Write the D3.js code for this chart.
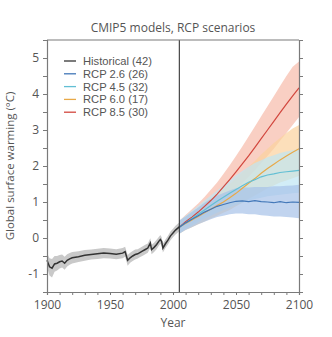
<!DOCTYPE html>
<html>
<head>
<meta charset="utf-8">
<script src="https://cdn.jsdelivr.net/npm/d3@7"></script>
<style>
  body { margin: 0; background: #fff; }
  text { font-family: "Open Sans", "DejaVu Sans", sans-serif; }
</style>
</head>
<body>
<div id="chart"></div>
<script>
// Historical run (1900-2005)
const histYears = [1900,1902,1904,1906,1908,1910,1912,1914,1916,1918,1920,1925,1930,1935,1940,1945,1950,1955,1960,1962,1964,1966,1968,1970,1972,1974,1976,1978,1980,1982,1983,1985,1987,1989,1990,1991,1992,1994,1996,1998,2000,2002,2005];
const histMean  = [-0.62,-0.80,-0.84,-0.72,-0.70,-0.66,-0.64,-0.70,-0.62,-0.58,-0.55,-0.52,-0.48,-0.46,-0.44,-0.42,-0.43,-0.45,-0.42,-0.38,-0.62,-0.55,-0.50,-0.46,-0.44,-0.40,-0.36,-0.32,-0.28,-0.14,-0.32,-0.26,-0.18,-0.08,-0.04,-0.10,-0.28,-0.16,-0.06,0.06,0.14,0.22,0.31];
const histSpread = [0.20,0.24,0.26,0.22,0.20,0.19,0.18,0.18,0.17,0.16,0.16,0.15,0.15,0.14,0.14,0.14,0.14,0.14,0.14,0.14,0.15,0.14,0.14,0.14,0.13,0.13,0.13,0.13,0.13,0.13,0.13,0.13,0.13,0.12,0.12,0.12,0.12,0.12,0.12,0.12,0.12,0.12,0.12];

// Projections (2005-2100)
const projYears = [2005,2010,2015,2020,2025,2030,2035,2040,2045,2050,2055,2060,2065,2070,2075,2080,2085,2090,2095,2100];

const rcp26Mean = [0.30,0.42,0.52,0.62,0.72,0.80,0.88,0.93,0.98,1.02,1.03,1.01,1.04,1.01,1.00,0.98,1.01,0.98,1.00,0.99];
const rcp26Low  = [0.12,0.22,0.30,0.38,0.45,0.52,0.58,0.62,0.66,0.68,0.68,0.66,0.66,0.63,0.62,0.60,0.60,0.58,0.57,0.55];
const rcp26High = [0.48,0.60,0.72,0.85,0.98,1.08,1.18,1.25,1.32,1.38,1.40,1.40,1.42,1.42,1.42,1.44,1.44,1.45,1.46,1.48];

const rcp45Mean = [0.30,0.42,0.54,0.66,0.78,0.90,1.02,1.13,1.24,1.35,1.45,1.55,1.62,1.70,1.75,1.78,1.82,1.84,1.86,1.88];
const rcp45Low  = [0.12,0.24,0.34,0.44,0.54,0.62,0.70,0.78,0.85,0.92,0.98,1.04,1.08,1.12,1.16,1.18,1.20,1.22,1.24,1.26];
const rcp45High = [0.48,0.62,0.76,0.90,1.04,1.18,1.32,1.46,1.60,1.74,1.86,1.98,2.08,2.16,2.24,2.30,2.36,2.40,2.44,2.48];

const rcp60Mean = [0.30,0.40,0.50,0.60,0.70,0.80,0.90,1.00,1.12,1.24,1.38,1.52,1.65,1.80,1.93,2.05,2.17,2.28,2.38,2.48];
const rcp60Low  = [0.12,0.22,0.30,0.38,0.46,0.54,0.62,0.70,0.78,0.88,0.98,1.08,1.18,1.28,1.38,1.46,1.54,1.60,1.66,1.72];
const rcp60High = [0.48,0.60,0.72,0.84,0.98,1.10,1.22,1.36,1.50,1.66,1.82,1.98,2.14,2.32,2.48,2.64,2.78,2.92,3.04,3.14];

const rcp85Mean = [0.30,0.45,0.58,0.72,0.88,1.04,1.22,1.42,1.62,1.84,2.06,2.28,2.52,2.76,3.00,3.24,3.48,3.72,3.95,4.17];
const rcp85Low  = [0.12,0.26,0.38,0.50,0.62,0.76,0.90,1.04,1.20,1.36,1.52,1.70,1.88,2.08,2.28,2.48,2.70,2.92,3.14,3.36];
const rcp85High = [0.48,0.64,0.80,0.96,1.14,1.34,1.54,1.78,2.02,2.28,2.54,2.82,3.10,3.38,3.66,3.94,4.22,4.50,4.76,4.90];

const legendLabels = ["Historical (42)", "RCP 2.6 (26)", "RCP 4.5 (32)", "RCP 6.0 (17)", "RCP 8.5 (30)"];
const lineColors   = ["#333333", "#4277b8", "#62bfd4", "#e8a948", "#d2473e"];
const bandColors   = ["#c9c9c9", "#a6c2e8", "#bfe5f3", "#fbd29d", "#f6bba9"];

const yTicks = [-1, 0, 1, 2, 3, 4, 5];
const xTicks = [1900, 1950, 2000, 2050, 2100];

const width = 332, height = 337;
const svg = d3.select("#chart").append("svg")
  .attr("width", width)
  .attr("height", height);

const x = d3.scaleLinear().domain([1900, 2100]).range([47, 299]);
const y = d3.scaleLinear().domain([-1.5, 5.5]).range([292, 40]);

const axisColor = "#7a7a7a";
const textColor = "#555";

// Bands, drawn from highest scenario down
const projections = [
  { mean: rcp85Mean, low: rcp85Low, high: rcp85High, i: 4 },
  { mean: rcp60Mean, low: rcp60Low, high: rcp60High, i: 3 },
  { mean: rcp45Mean, low: rcp45Low, high: rcp45High, i: 2 },
  { mean: rcp26Mean, low: rcp26Low, high: rcp26High, i: 1 }
];

const area = d3.area()
  .x(d => x(d.year))
  .y0(d => y(d.low))
  .y1(d => y(d.high));

const line = d3.line()
  .x(d => x(d.year))
  .y(d => y(d.v));

const plot = svg.append("g");

// historical band + line
const histData = histYears.map((yr, k) => ({
  year: yr, v: histMean[k], low: histMean[k] - histSpread[k], high: histMean[k] + histSpread[k]
}));
plot.append("path")
  .datum(histData)
  .attr("d", area)
  .attr("fill", bandColors[0]);

projections.forEach(p => {
  const data = projYears.map((yr, k) => ({ year: yr, low: p.low[k], high: p.high[k] }));
  plot.append("path")
    .datum(data)
    .attr("d", area)
    .attr("fill", bandColors[p.i])
    .attr("fill-opacity", 0.7);
});

plot.append("path")
  .datum(histData)
  .attr("d", line)
  .attr("fill", "none")
  .attr("stroke", lineColors[0])
  .attr("stroke-width", 1.5);

projections.forEach(p => {
  const data = projYears.map((yr, k) => ({ year: yr, v: p.mean[k] }));
  plot.append("path")
    .datum(data)
    .attr("d", line)
    .attr("fill", "none")
    .attr("stroke", lineColors[p.i])
    .attr("stroke-width", 1.2);
});

// 2005 divider
svg.append("line")
  .attr("x1", x(2005)).attr("x2", x(2005))
  .attr("y1", y(5.5)).attr("y2", y(-1.5))
  .attr("stroke", "#222")
  .attr("stroke-width", 1);

// Axes
const bottomAxis = d3.axisBottom(x)
  .tickValues(d3.range(1900, 2101, 10))
  .tickSize(3)
  .tickFormat(d => xTicks.includes(d) ? d : "");
const gx = svg.append("g")
  .attr("transform", `translate(0,${y(-1.5)})`)
  .call(bottomAxis);

const leftAxis = d3.axisLeft(y)
  .tickValues(d3.range(-1, 5.01, 0.5))
  .tickSize(4)
  .tickFormat(d => yTicks.includes(d) ? d : "");
const gy = svg.append("g")
  .attr("transform", `translate(${x(1900)},0)`)
  .call(leftAxis);

const rightAxis = d3.axisRight(y)
  .tickValues(d3.range(-1, 5.01, 0.5))
  .tickSize(4)
  .tickFormat("");
const gr = svg.append("g")
  .attr("transform", `translate(${x(2100)},0)`)
  .call(rightAxis);

[gx, gy, gr].forEach(g => {
  g.select(".domain").attr("stroke", axisColor).attr("stroke-width", 1.2);
  g.selectAll(".tick line").attr("stroke", axisColor).attr("stroke-width", 1);
  g.selectAll(".tick text")
    .attr("fill", textColor)
    .style("font-size", "12px");
});
gx.selectAll(".tick text").attr("dy", "0.9em");
gy.selectAll(".tick text").attr("dx", "-1px");

// top frame line
svg.append("line")
  .attr("x1", x(1900)).attr("x2", x(2100))
  .attr("y1", y(5.5)).attr("y2", y(5.5))
  .attr("stroke", axisColor)
  .attr("stroke-width", 1.2);

// Title and labels
svg.append("text")
  .attr("x", (x(1900) + x(2100)) / 2)
  .attr("y", 32)
  .attr("text-anchor", "middle")
  .attr("fill", textColor)
  .style("font-size", "12px")
  .text("CMIP5 models, RCP scenarios");

svg.append("text")
  .attr("x", (x(1900) + x(2100)) / 2)
  .attr("y", 327)
  .attr("text-anchor", "middle")
  .attr("fill", textColor)
  .style("font-size", "12px")
  .text("Year");

svg.append("text")
  .attr("transform", `translate(14,${(y(5.5) + y(-1.5)) / 2}) rotate(-90)`)
  .attr("text-anchor", "middle")
  .attr("fill", textColor)
  .style("font-size", "11.5px")
  .text("Global surface warming (°C)");

// Legend
const legend = svg.append("g")
  .attr("transform", "translate(64,61)");
legendLabels.forEach((label, k) => {
  const row = legend.append("g").attr("transform", `translate(0,${k * 12.8})`);
  row.append("line")
    .attr("x1", 0).attr("x2", 12)
    .attr("y1", 0).attr("y2", 0)
    .attr("stroke", lineColors[k])
    .attr("stroke-width", 1.3);
  row.append("text")
    .attr("x", 19)
    .attr("y", 0)
    .attr("dy", "0.35em")
    .attr("fill", textColor)
    .style("font-family", "'Liberation Sans', Arial, sans-serif")
    .style("font-size", "11.2px")
    .text(label);
});
</script>
</body>
</html>
